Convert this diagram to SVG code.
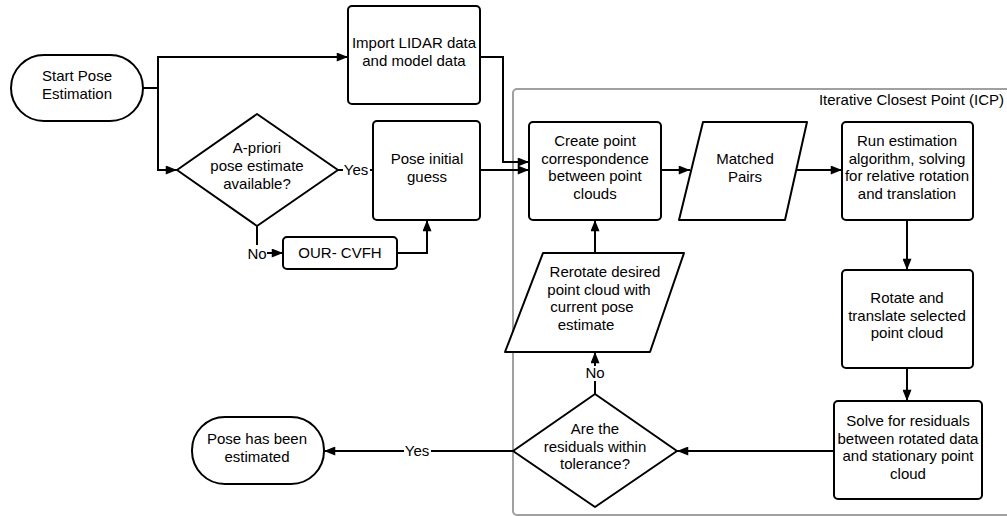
<svg xmlns="http://www.w3.org/2000/svg" width="1007" height="516" viewBox="0 0 1007 516">
<defs>
<style>
.n{fill:#fff;stroke:#000;stroke-width:2}
.t{font-family:"Liberation Sans",Arial,sans-serif;font-size:15px;fill:#000;text-anchor:middle}
.c{fill:none;stroke:#000;stroke-width:2;marker-end:url(#arr)}
.lb{fill:#fff}
</style>
<marker id="arr" viewBox="0 0 10 8" refX="10" refY="4" markerWidth="12" markerHeight="9" orient="auto" markerUnits="userSpaceOnUse"><path d="M0,0 L10,4 L0,8 z" fill="#000"/></marker>
</defs>
<rect width="1007" height="516" fill="#fff"/>
<g id="icp">
<rect x="513" y="89" width="520" height="426" rx="4" fill="none" stroke="#a0a0a0" stroke-width="2"/>
<text class="t" x="1004" y="105" style="text-anchor:end">Iterative Closest Point (ICP)</text>
</g>
<g id="connectors">
<path class="c" d="M143,88 H158 V57 H348"/>
<path class="c" d="M158,88 V170 H177"/>
<path class="c" d="M338,170 H373"/>
<path class="c" d="M257,226 V253 H283"/>
<path class="c" d="M397,253 H427 V220"/>
<path class="c" d="M480,57 H503 V162 H529"/>
<path class="c" d="M480,170 H529"/>
<path class="c" d="M661,170 H690"/>
<path class="c" d="M797,170 H842"/>
<path class="c" d="M907,220 V270"/>
<path class="c" d="M907,368 V401"/>
<path class="c" d="M834,451 H677"/>
<path class="c" d="M595,394 V352"/>
<path class="c" d="M595,253 V220"/>
<path class="c" d="M513,451 H324"/>
<rect class="lb" x="343" y="162" width="27" height="16"/>
<text class="t" x="356" y="175">Yes</text>
<rect class="lb" x="247" y="245" width="20" height="16"/>
<text class="t" x="257" y="259">No</text>
<rect class="lb" x="585" y="366" width="20" height="15"/>
<text class="t" x="595" y="378">No</text>
<rect class="lb" x="404" y="443" width="27" height="16"/>
<text class="t" x="417" y="456">Yes</text>
</g>
<g id="start">
<rect class="n" x="11" y="55" width="132" height="66" rx="33"/>
<text class="t" x="77" y="81">Start Pose</text>
<text class="t" x="77" y="99">Estimation</text>
</g>
<g id="import">
<rect class="n" x="348" y="6" width="132" height="98" rx="4"/>
<text class="t" x="414" y="48">Import LIDAR data</text>
<text class="t" x="414" y="66">and model data</text>
</g>
<g id="apriori">
<path class="n" d="M257,114 L338,170 L257,226 L177,170 Z" stroke-linejoin="round"/>
<text class="t" x="257" y="153">A-priori</text>
<text class="t" x="257" y="171">pose estimate</text>
<text class="t" x="257" y="189">available?</text>
</g>
<g id="guess">
<rect class="n" x="373" y="121" width="107" height="99" rx="4"/>
<text class="t" x="427" y="164">Pose initial</text>
<text class="t" x="427" y="182">guess</text>
</g>
<g id="ourcvfh">
<rect class="n" x="283" y="237" width="114" height="32" rx="4"/>
<text class="t" x="340" y="258">OUR- CVFH</text>
</g>
<g id="create">
<rect class="n" x="529" y="122" width="132" height="98" rx="4"/>
<text class="t" x="595" y="146">Create point</text>
<text class="t" x="595" y="164">correspondence</text>
<text class="t" x="595" y="181">between point</text>
<text class="t" x="595" y="199">clouds</text>
</g>
<g id="matched">
<path class="n" d="M703,122 L807,122 L785,220 L679,220 Z" stroke-linejoin="round"/>
<text class="t" x="745" y="164">Matched</text>
<text class="t" x="745" y="182">Pairs</text>
</g>
<g id="run">
<rect class="n" x="842" y="122" width="131" height="98" rx="4"/>
<text class="t" x="907" y="146">Run estimation</text>
<text class="t" x="907" y="164">algorithm, solving</text>
<text class="t" x="907" y="181">for relative rotation</text>
<text class="t" x="907" y="199">and translation</text>
</g>
<g id="rotate">
<rect class="n" x="842" y="270" width="131" height="98" rx="4"/>
<text class="t" x="907" y="303">Rotate and</text>
<text class="t" x="907" y="321">translate selected</text>
<text class="t" x="907" y="338">point cloud</text>
</g>
<g id="solve">
<rect class="n" x="834" y="401" width="148" height="98" rx="4"/>
<text class="t" x="908" y="426">Solve for residuals</text>
<text class="t" x="908" y="444">between rotated data</text>
<text class="t" x="908" y="461">and stationary point</text>
<text class="t" x="908" y="479">cloud</text>
</g>
<g id="residuals">
<path class="n" d="M595,394 L677,451 L595,507 L513,451 Z" stroke-linejoin="round"/>
<text class="t" x="595" y="434">Are the</text>
<text class="t" x="595" y="452">residuals within</text>
<text class="t" x="595" y="469">tolerance?</text>
</g>
<g id="rerotate">
<path class="n" d="M543,253 L684,253 L650,352 L505,352 Z" stroke-linejoin="round"/>
<text class="t" x="605" y="277">Rerotate desired</text>
<text class="t" x="599" y="295">point cloud with</text>
<text class="t" x="592" y="312">current pose</text>
<text class="t" x="586" y="330">estimate</text>
</g>
<g id="done">
<rect class="n" x="192" y="417" width="132" height="67" rx="33"/>
<text class="t" x="257" y="444">Pose has been</text>
<text class="t" x="257" y="462">estimated</text>
</g>
</svg>
